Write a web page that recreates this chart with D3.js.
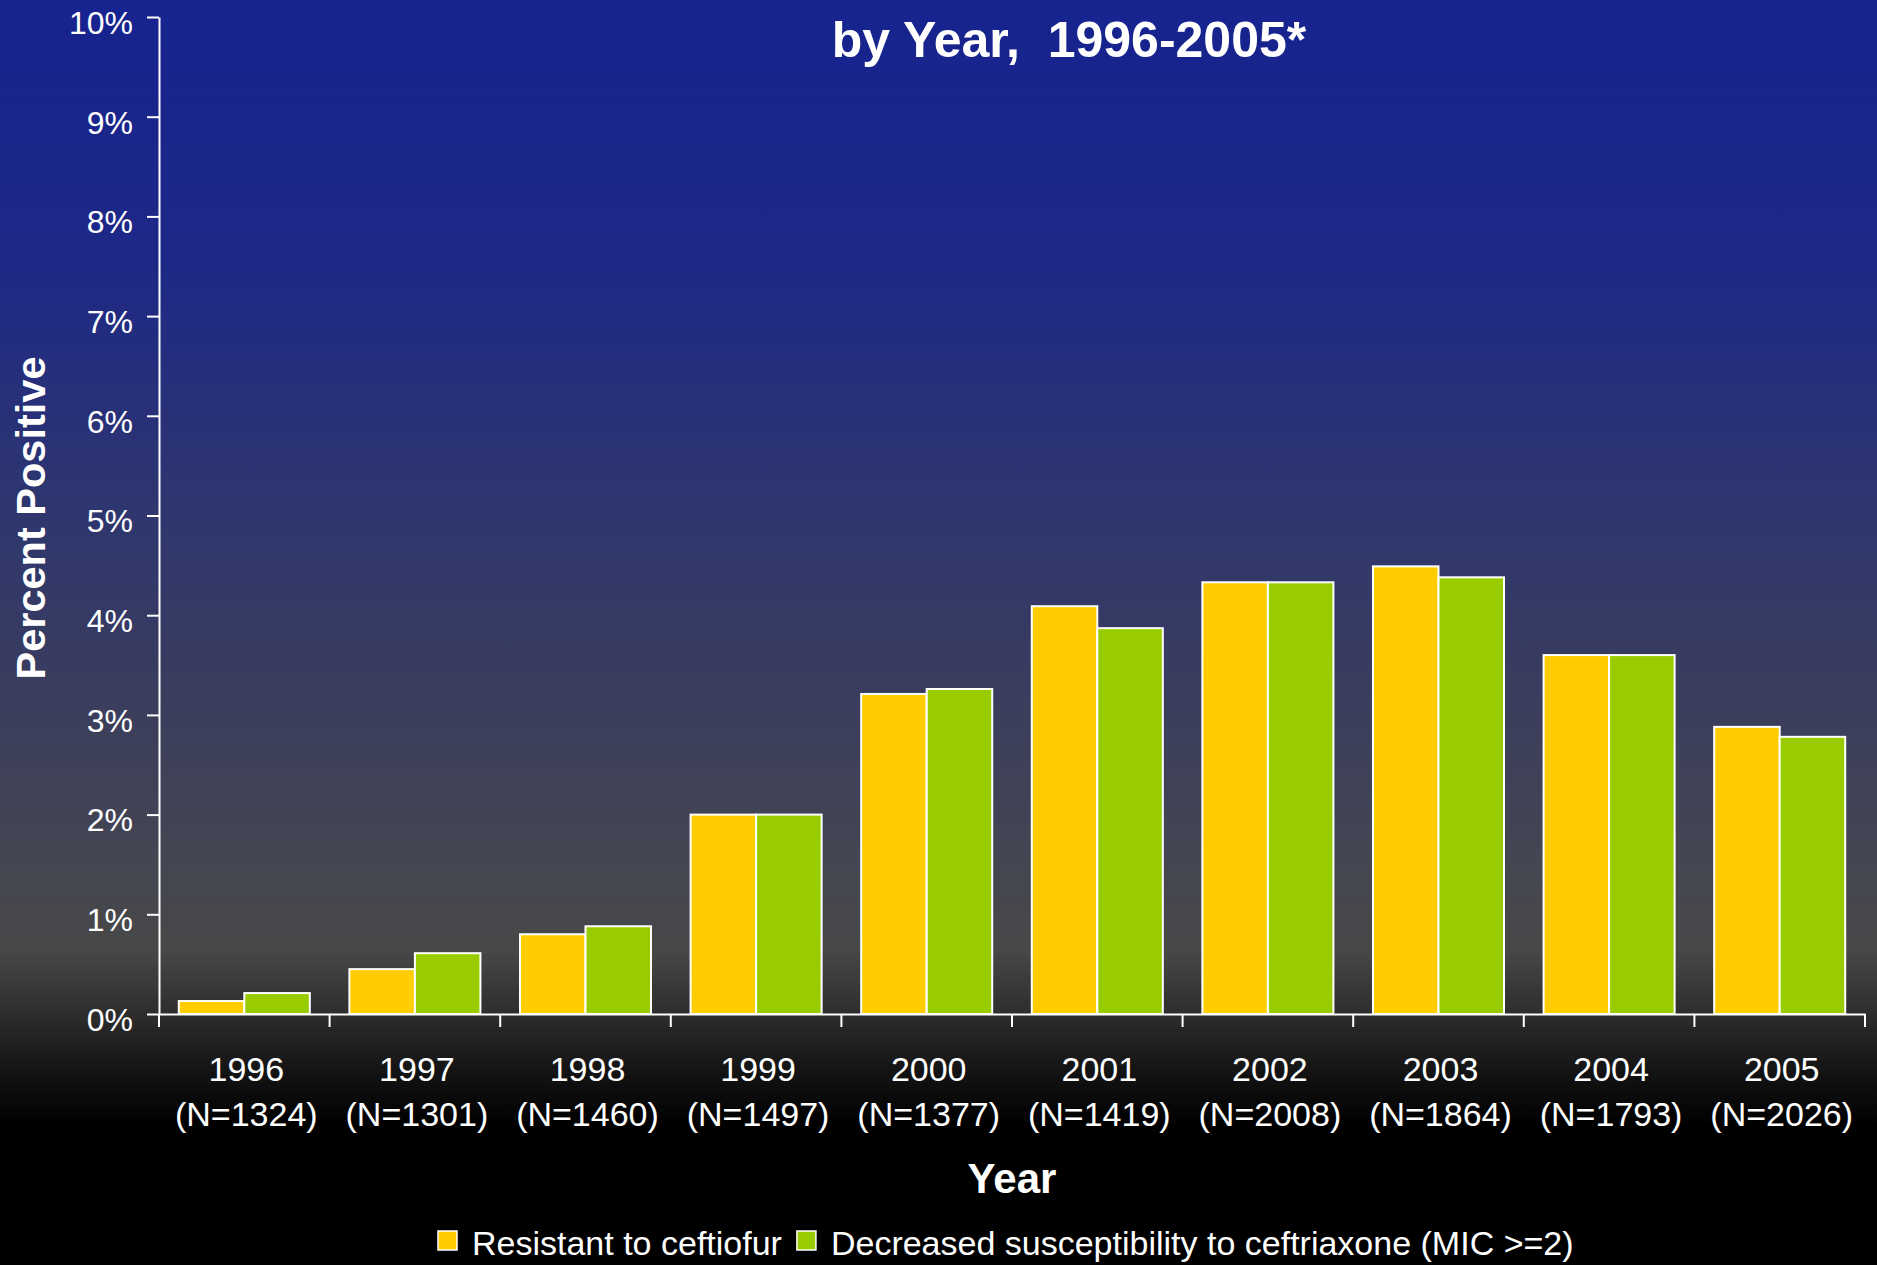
<!DOCTYPE html>
<html>
<head>
<meta charset="utf-8">
<script src="https://cdn.jsdelivr.net/npm/d3@7"></script>
<style>
    body { margin: 0; padding: 0; background: #000; }
    svg { display: block; font-family: "Liberation Sans", Arial, sans-serif; }
    text { fill: #fff; }
</style>
</head>
<body>
<div id="chart"></div>
<script>
// values (percent positive)
var years = ["1996", "1997", "1998", "1999", "2000", "2001", "2002", "2003", "2004", "2005"];
var sample_sizes = [1324, 1301, 1460, 1497, 1377, 1419, 2008, 1864, 1793, 2026];
var resistant_ceftiofur = [0.13, 0.45, 0.80, 2.00, 3.21, 4.09, 4.33, 4.49, 3.60, 2.88];
var decreased_ceftriaxone = [0.21, 0.61, 0.88, 2.00, 3.26, 3.87, 4.33, 4.38, 3.60, 2.78];
var series_names = ["Resistant to ceftiofur", "Decreased susceptibility to ceftriaxone (MIC >=2)"];
var series_colors = ["#ffcc00", "#99cc00"];
var y_ticks = [0, 1, 2, 3, 4, 5, 6, 7, 8, 9, 10];

var width = 1877;
var height = 1265;

var svg = d3.select("#chart").append("svg")
    .attr("width", width)
    .attr("height", height);

// background gradient, blue at the top fading through grey into black
var grad = svg.append("defs").append("linearGradient")
    .attr("id", "bg")
    .attr("x1", 0).attr("y1", 0).attr("x2", 0).attr("y2", 1);
var stops = [
    [0, "#17238f"], [0.2, "#1d2887"], [0.4, "#2e366f"], [0.55, "#3a3d5d"],
    [0.68, "#444652"], [0.75, "#484848"], [0.8, "#2e2e2e"], [0.85, "#121212"], [0.89, "#000000"]
];
grad.selectAll("stop").data(stops).enter().append("stop")
    .attr("offset", function(d) { return d[0]; })
    .attr("stop-color", function(d) { return d[1]; });

svg.append("rect")
    .attr("width", width)
    .attr("height", height)
    .attr("fill", "url(#bg)");

// scales
var x = d3.scaleBand().domain(years).range([159, 1865]);
var bw = x.bandwidth();
var x_inner = d3.scaleBand().domain([0, 1]).range([0.116 * bw, 0.884 * bw]);
var y = d3.scaleLinear().domain([0, 10]).range([1014, 17]);

// bars
var rows = years.map(function(yr, i) {
    return {year: yr, values: [resistant_ceftiofur[i], decreased_ceftriaxone[i]]};
});

var groups = svg.append("g").selectAll("g").data(rows).enter().append("g")
    .attr("transform", function(d) { return "translate(" + x(d.year) + ",0)"; });

groups.selectAll("rect").data(function(d) { return d.values; }).enter().append("rect")
    .attr("x", function(d, i) { return x_inner(i); })
    .attr("y", function(d) { return y(d); })
    .attr("width", x_inner.bandwidth())
    .attr("height", function(d) { return y(0) - y(d); })
    .attr("fill", function(d, i) { return series_colors[i]; })
    .attr("stroke", "#fff")
    .attr("stroke-width", 2);

// y axis
var y_axis = svg.append("g")
    .attr("transform", "translate(159,0)")
    .call(d3.axisLeft(y).tickValues(y_ticks).tickSize(12).tickSizeOuter(0).tickPadding(14)
        .tickFormat(function(d) { return d + "%"; }));
y_axis.selectAll("path, line").attr("stroke", "#fff").attr("stroke-width", 2);
y_axis.selectAll("text")
    .attr("dy", "0.51em")
    .style("font-size", "32px")
    .style("font-family", "\"Liberation Sans\", Arial, sans-serif")
    .attr("fill", "#fff");

// x axis: labels under band centres, ticks on the band edges
var x_axis = svg.append("g")
    .attr("transform", "translate(0,1014)")
    .call(d3.axisBottom(x).tickSize(0).tickSizeOuter(0).tickFormat(""));
x_axis.select("path").attr("stroke", "#fff").attr("stroke-width", 2);

var edges = years.map(function(d) { return x(d); }).concat([x.range()[1]]);
svg.append("g").selectAll("line").data(edges).enter().append("line")
    .attr("x1", function(d) { return d; })
    .attr("x2", function(d) { return d; })
    .attr("y1", 1014)
    .attr("y2", 1027)
    .attr("stroke", "#fff")
    .attr("stroke-width", 2);

var labels = svg.append("g").selectAll("text").data(years).enter().append("text")
    .attr("text-anchor", "middle")
    .style("font-size", "34px");
labels.append("tspan")
    .attr("x", function(d) { return x(d) + bw / 2 + 2; })
    .attr("y", 1081)
    .text(function(d) { return d; });
labels.append("tspan")
    .attr("x", function(d) { return x(d) + bw / 2 + 2; })
    .attr("y", 1126)
    .text(function(d, i) { return "(N=" + sample_sizes[i] + ")"; });

// axis titles
svg.append("text")
    .attr("transform", "translate(45,518) rotate(-90)")
    .attr("text-anchor", "middle")
    .style("font-size", "41.5px")
    .style("font-weight", "bold")
    .text("Percent Positive");

svg.append("text")
    .attr("x", 1012)
    .attr("y", 1193)
    .attr("text-anchor", "middle")
    .style("font-size", "42px")
    .style("font-weight", "bold")
    .text("Year");

// chart title (second line, first line is cut off above the picture)
svg.append("text")
    .attr("x", 1069)
    .attr("y", 57)
    .attr("text-anchor", "middle")
    .style("font-size", "50px")
    .style("font-weight", "bold")
    .style("white-space", "pre")
    .text("by Year,  1996-2005*");

// legend
var legend = svg.append("g");
var lx = 438;
series_names.forEach(function(name, i) {
    legend.append("rect")
        .attr("x", lx)
        .attr("y", 1231)
        .attr("width", 19)
        .attr("height", 19)
        .attr("fill", series_colors[i])
        .attr("stroke", "#fff")
        .attr("stroke-width", 1.5);
    var t = legend.append("text")
        .attr("x", lx + 34)
        .attr("y", 1255)
        .style("font-size", "34px")
        .text(name);
    lx = lx + 34 + t.node().getComputedTextLength() + 15;
});
</script>
</body>
</html>
